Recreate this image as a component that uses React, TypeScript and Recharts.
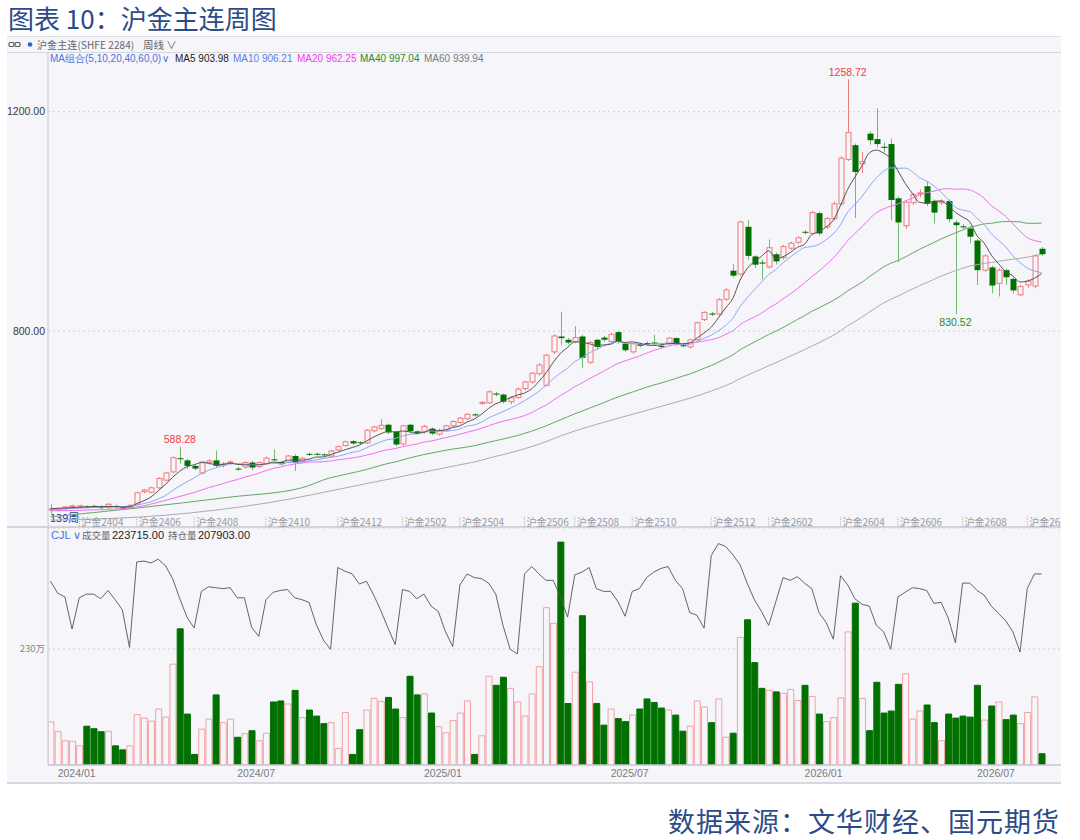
import React from 'react';
import {
  ComposedChart,
  Bar,
  Line,
  Cell,
  XAxis,
  YAxis,
  CartesianGrid,
  ReferenceDot,
} from 'recharts';

// weekly candles, SHFE gold main contract
const opens = [
  474, 473, 476, 480, 479, 480, 481, 480, 478, 481, 479, 478,
  484, 507, 506, 514, 528, 543, 568, 564, 554, 541, 560, 564,
  555, 560, 549, 552, 560, 553, 558, 566, 561, 561, 572, 562,
  576, 576, 575, 572, 583, 591, 599, 597, 596, 618, 622, 629,
  616, 594, 629, 617, 616, 622, 612, 618, 627, 633, 640, 648,
  668, 669, 686, 684, 671, 679, 695, 707, 722, 701, 762, 790,
  784, 781, 790, 743, 784, 788, 781, 798, 777, 762, 776, 778,
  779, 773, 777, 787, 774, 771, 784, 821, 832, 831, 858, 910,
  904, 990, 936, 925, 917, 940, 934, 951, 962, 981, 978, 1015,
  990, 1005, 1032, 1113, 1139, 1105, 1160, 1150, 1136, 1141, 1042, 992,
  1034, 1051, 1064, 1037, 1034, 1037, 998, 991, 987, 965, 911, 916,
  887, 911, 895, 866, 884, 882, 950,
];
const highs = [
  484, 478, 481, 483, 483, 482, 483, 482, 486, 483, 481, 484,
  507, 512, 516, 533, 543, 571, 588.28, 567, 557, 563, 566, 582,
  561, 564, 552, 562, 563, 562, 571, 584, 563, 574, 575, 570,
  578, 578, 577, 583, 591, 600, 601, 599, 621, 627, 639, 631,
  618, 629, 631, 619, 629, 624, 622, 629, 637, 643, 650, 650,
  672, 692, 689, 686, 681, 697, 709, 725, 741, 758, 794, 835,
  787, 809, 793, 782, 786, 791, 797, 800, 780, 779, 778, 781,
  793, 775, 789, 789, 776, 786, 817, 836, 835, 860, 878, 922,
  1001, 1002, 938, 930, 967, 943, 957, 963, 973, 984, 1019, 1018,
  1008, 1036, 1119, 1258.72, 1142, 1126, 1164, 1206, 1144, 1151, 1045, 1038,
  1052, 1058, 1072, 1040, 1040, 1040, 1002, 995, 990, 968, 940, 919,
  914, 914, 898, 884, 894, 940, 953,
];
const lows = [
  467, 471, 474, 478, 477, 477, 477, 475, 476, 477, 474, 476,
  482, 504, 504, 512, 526, 541, 558, 548, 546, 538, 556, 551,
  551, 557, 545, 549, 546, 550, 556, 562, 555, 559, 545, 559,
  572, 573, 571, 569, 580, 589, 592, 593, 594, 615, 620, 612,
  590, 591, 614, 611, 613, 610, 609, 616, 625, 631, 638, 644,
  665, 667, 681, 668, 666, 676, 692, 704, 719, 699, 758, 774,
  775, 778, 732, 740, 765, 780, 778, 777, 762, 759, 770, 774,
  773, 768, 774, 773, 770, 768, 782, 818, 827, 828, 855, 898,
  901, 930, 915, 894, 914, 921, 930, 948, 958, 976, 975, 974,
  986, 1002, 1029, 1110, 1006, 1088, 1140, 1135, 1126, 1002, 926, 987,
  1030, 1044, 1028, 996, 1030, 998, 830.52, 986, 960, 884, 907, 869,
  863, 884, 868, 864, 879, 878, 937,
];
const closes = [
  475, 476, 479, 481, 481, 479, 479, 477, 484, 479, 476, 482,
  505, 510, 514, 531, 541, 569, 567, 554, 549, 561, 563, 554,
  557, 561, 548, 560, 551, 560, 568, 565, 557, 572, 560, 568,
  575, 575, 574, 581, 589, 598, 595, 596, 619, 625, 628, 615,
  593, 627, 617, 614, 626, 613, 619, 627, 635, 641, 648, 646,
  670, 689, 684, 671, 678, 694, 707, 723, 738, 756, 791, 787,
  779, 788, 751, 779, 771, 784, 794, 781, 765, 777, 773, 777,
  776, 771, 787, 776, 773, 784, 815, 834, 830, 857, 875, 901,
  999, 937, 921, 923, 952, 927, 954, 960, 970, 980, 1016, 978,
  1005, 1032, 1115, 1162, 1090, 1109, 1148, 1141, 1134, 1039, 998, 1035,
  1049, 1052, 1032, 1016, 1037, 1004, 993, 989, 972, 911, 937, 883,
  911, 898, 874, 881, 891, 937, 940,
];
// 成交量, 万手
const volumes = [
  85.5, 66, 48, 47, 38, 77, 72, 66, 67, 38, 30, 38,
  100, 93, 87, 111, 95, 200, 270, 101, 21, 71, 91, 139,
  84, 91, 55, 62, 68, 48, 63, 125, 127, 121, 148, 94,
  109, 97, 82, 84, 33, 104, 21, 70, 109, 132, 126, 134,
  111, 94, 176, 139, 141, 103, 76, 64, 88, 103, 127, 21,
  58, 176, 158, 174, 152, 125, 97, 141, 195, 312, 281, 442,
  122, 184, 296, 165, 122, 79, 111, 92, 86, 99, 111, 131,
  124, 113, 109, 99, 67, 77, 127, 115, 84, 131, 55, 63,
  253, 288, 203, 152, 148, 145, 142, 150, 128, 158, 136, 101,
  86, 94, 133, 264, 321, 132, 68, 164, 103, 107, 160, 181,
  91, 107, 119, 84, 48, 101, 93, 97, 95, 158, 89, 117,
  125, 90, 99, 82, 104, 135, 22.4,
];
// 持仓量, 万手
const openInterest = [
  20.0, 18.7, 18.3, 14.8, 18.2, 18.6, 18.6, 18.1, 19.0, 18.0, 16.9, 12.8,
  22.1, 22.2, 22.0, 22.4, 21.7, 20.3, 18.1, 16.1, 14.9, 18.9, 19.4, 19.3,
  19.2, 19.3, 18.2, 18.2, 15.0, 14.0, 18.0, 18.8, 19.0, 19.1, 18.2, 18.0,
  17.7, 15.3, 13.6, 12.6, 21.5, 21.1, 20.8, 19.7, 20.0, 18.5, 16.8, 14.9,
  13.1, 19.1, 18.9, 18.1, 18.6, 17.3, 16.7, 14.5, 12.9, 19.6, 20.8, 20.4,
  20.3, 19.8, 18.6, 15.2, 12.6, 12.1, 20.8, 21.6, 20.8, 20.1, 20.1, 18.3,
  16.1, 20.7, 21.0, 21.5, 19.2, 18.9, 18.9, 17.8, 16.2, 18.9, 19.2, 20.4,
  21.0, 21.4, 21.6, 20.1, 19.2, 16.6, 16.3, 14.9, 22.8, 24.1, 23.8, 22.9,
  21.8, 19.8, 18.0, 16.7, 15.2, 17.8, 20.4, 20.1, 20.5, 19.8, 19.2, 16.6,
  15.5, 13.7, 20.6, 19.6, 18.1, 17.5, 17.3, 15.2, 14.5, 12.6, 18.3, 18.8,
  19.3, 19.2, 19.0, 17.6, 17.7, 16.0, 13.3, 19.8, 19.8, 19.0, 18.5, 17.3,
  16.5, 15.7, 14.5, 12.3, 19.2, 20.8, 20.8,
];

const ma5Early = [[0, 476]];
const ma10Early = [[0, 474]];
const ma20Early = [[0, 472], [10, 476]];
const ma40Early = [[0, 461], [12, 477], [25, 497], [35, 514]];
const ma60Early = [[0, 455], [16, 464], [30, 486], [43, 519], [57, 556]];

const contractTicks = [4, 12, 20, 30, 40, 49, 57, 66, 73, 81, 92, 100, 110, 118, 127, 136];
const contractNames = [
  '沪金2404', '沪金2406', '沪金2408', '沪金2410', '沪金2412', '沪金2502', '沪金2504', '沪金2506',
  '沪金2508', '沪金2510', '沪金2512', '沪金2602', '沪金2604', '沪金2606', '沪金2608', '沪金2610',
];
const monthTicks = [1, 26, 52, 78, 105, 129];
const monthNames = ['2024/01', '2024/07', '2025/01', '2025/07', '2026/01', '2026/07'];

const extremes = [
  { i: 18, value: 588.28, side: 'top', color: '#f23c3c' },
  { i: 111, value: 1258.72, side: 'top', color: '#f23c3c' },
  { i: 126, value: 830.52, side: 'bottom', color: '#2a8a2a' },
];

const maLegend = [
  { name: 'MA5', value: '903.98', color: '#222222', left: 175 },
  { name: 'MA10', value: '906.21', color: '#5b7de6', left: 233 },
  { name: 'MA20', value: '962.25', color: '#f03cf0', left: 297 },
  { name: 'MA40', value: '997.04', color: '#2a8a2a', left: 360 },
  { name: 'MA60', value: '939.94', color: '#7a7a7a', left: 424 },
];

function movingAverage(n: number, early: number[][]) {
  const out: (number | null)[] = closes.map(() => null);
  early.forEach(([i, v]) => (out[i] = v));
  for (let i = n - 1; i < closes.length; i++) {
    let s = 0;
    for (let k = i - n + 1; k <= i; k++) s += closes[k];
    out[i] = s / n;
  }
  return out;
}

const ma5 = movingAverage(5, ma5Early);
const ma10 = movingAverage(10, ma10Early);
const ma20 = movingAverage(20, ma20Early);
const ma40 = movingAverage(40, ma40Early);
const ma60 = movingAverage(60, ma60Early);

const rows = opens.map((o, i) => ({
  i,
  o,
  h: highs[i],
  l: lows[i],
  c: closes[i],
  range: [lows[i], highs[i]],
  up: closes[i] >= o,
  vol: volumes[i],
  oi: openInterest[i],
  ma5: ma5[i],
  ma10: ma10[i],
  ma20: ma20[i],
  ma40: ma40[i],
  ma60: ma60[i],
}));

const BG = '#f5f5fa';
const UP = '#f27a7a';
const DOWN = '#007000';
const AXIS = '#c8c8d2';
const CJK = '"Noto Sans CJK SC", "Noto Sans", sans-serif';
const NUM = '"Liberation Sans", Arial, sans-serif';
const X_DOMAIN = [-0.35, 140.7];
const CHART_W = 1053;

const Candle = (props: any) => {
  const { x, y, width, height, payload } = props;
  if (!payload) return null;
  const { o, h, l, c, up } = payload;
  const top = Math.min(y, y + height);
  const full = Math.abs(height);
  const span = h - l || 1;
  const py = (v: number) => top + ((h - v) / span) * full;
  const cx = Math.round(x + width / 2) + 0.5;
  const bTop = py(Math.max(o, c));
  const bBot = py(Math.min(o, c));
  const bH = Math.max(1, bBot - bTop);
  if (up) {
    return (
      <g>
        <line x1={cx} x2={cx} y1={py(h)} y2={bTop} stroke={UP} />
        <line x1={cx} x2={cx} y1={bTop + bH} y2={py(l)} stroke={UP} />
        <rect x={cx - 2.5} y={bTop} width={5} height={bH} fill={BG} stroke={UP} />
      </g>
    );
  }
  return (
    <g>
      <line x1={cx} x2={cx} y1={py(h)} y2={py(l)} stroke="#72b872" />
      <rect x={cx - 3} y={bTop} width={6} height={bH} fill={DOWN} />
    </g>
  );
};

const ContractTick = ({ x, y, payload }: any) => {
  const k = contractTicks.indexOf(payload.value);
  return (
    <g>
      <line x1={x} x2={x} y1={y - 10} y2={y} stroke="#b4b4bc" strokeDasharray="1 1" />
      <text x={x + 2} y={y - 5} dy="0.35em" fontSize={10} fill="#9a9aa2" fontFamily={CJK}>
        {contractNames[k]}
      </text>
    </g>
  );
};

const MonthTick = ({ x, y, payload }: any) => (
  <text x={x} y={y + 8} dy="0.35em" fontSize={10.5} fill="#7a7a82" fontFamily={NUM}>
    {monthNames[monthTicks.indexOf(payload.value)]}
  </text>
);

const text = (left: number, top: number, content: string, style: any = {}) => (
  <div
    style={{
      position: 'absolute',
      left,
      top,
      lineHeight: '13px',
      whiteSpace: 'nowrap',
      fontSize: 10,
      fontFamily: NUM,
      ...style,
    }}
  >
    {content}
  </div>
);

export default function App() {
  return (
    <div style={{ position: 'absolute', left: 0, top: 0, width: 1080, height: 840, background: '#fff', overflow: 'hidden' }}>
      <div style={{ position: 'absolute', left: 8, top: 2, fontSize: 26, lineHeight: '32px', color: '#2c4b88', fontFamily: CJK }}>
        图表 10：沪金主连周图
      </div>

      <div style={{ position: 'absolute', left: 7, top: 36, width: 1054, height: 745, background: BG, borderTop: '1px solid #dcdce4', borderBottom: '2px solid #d8d8e0' }} />
      <div style={{ position: 'absolute', left: 7, top: 52, width: 1054, height: 1, background: '#d8d8e0' }} />
      <div style={{ position: 'absolute', left: 7, top: 526, width: 1054, height: 2, background: '#d4d4dc' }} />

      {/* header rows */}
      <svg style={{ position: 'absolute', left: 8, top: 41 }} width={26} height={8}>
        <rect x={1} y={1.5} width={5} height={4} rx={1.5} fill="none" stroke="#555" strokeWidth={1.2} />
        <rect x={7} y={1.5} width={5} height={4} rx={1.5} fill="none" stroke="#555" strokeWidth={1.2} />
        <circle cx={22} cy={3.5} r={2.3} fill="#2f5fc8" />
      </svg>
      {text(37, 38, '沪金主连(SHFE 2284)', { fontFamily: CJK, fontSize: 10, letterSpacing: 0.1, color: '#666' })}
      {text(143, 38, '周线 ∨', { fontFamily: CJK, fontSize: 10.5, color: '#666' })}
      {text(50, 52, 'MA组合(5,10,20,40,60,0)', { color: '#4a72e0', fontFamily: NUM })}
      {text(162, 52, '∨', { color: '#4a72e0', fontFamily: NUM })}
      {maLegend.map((m) =>
        <React.Fragment key={m.name}>{text(m.left, 52, `${m.name} ${m.value}`, { color: m.color })}</React.Fragment>
      )}
      {text(50, 511, '139周', { fontSize: 11, color: '#28409a', fontFamily: CJK })}
      {text(51, 529, 'CJL ∨', { fontSize: 11, color: '#4a72e0' })}
      {text(82, 529, '成交量', { fontSize: 9.5, color: '#666', fontFamily: CJK })}
      {text(112, 529, '223715.00', { fontSize: 11, color: '#222' })}
      {text(168, 529, '持仓量', { fontSize: 9.5, color: '#666', fontFamily: CJK })}
      {text(198, 529, '207903.00', { fontSize: 11, color: '#222' })}

      {/* price panel */}
      <div style={{ position: 'absolute', left: 8, top: 52 }}>
        <ComposedChart width={CHART_W} height={476} data={rows} margin={{ top: 0, right: 0, bottom: 0, left: 0 }}>
          <CartesianGrid vertical={false} stroke="#cfcfd8" strokeDasharray="2 3" />
          <XAxis
            dataKey="i"
            type="number"
            domain={X_DOMAIN}
            allowDataOverflow
            ticks={contractTicks}
            interval={0}
            height={1}
            axisLine={false}
            tickLine={false}
            tickSize={0}
            tickMargin={0}
            tick={<ContractTick />}
          />
          <YAxis
            domain={[442.5, 1308.9]}
            allowDataOverflow
            ticks={[800, 1200]}
            width={40}
            tickFormatter={(v) => v.toFixed(2)}
            axisLine={{ stroke: AXIS }}
            tickLine={false}
            tickSize={0}
            tickMargin={3}
            tick={{ fontSize: 10.5, fill: '#3a3a3a', fontFamily: NUM }}
          />
          <Line dataKey="ma60" type="monotone" stroke="#ababb0" strokeWidth={1} dot={false} connectNulls isAnimationActive={false} />
          <Line dataKey="ma40" type="monotone" stroke="#62aa62" strokeWidth={1} dot={false} connectNulls isAnimationActive={false} />
          <Line dataKey="ma20" type="monotone" stroke="#f070f0" strokeWidth={1} dot={false} connectNulls isAnimationActive={false} />
          <Line dataKey="ma10" type="monotone" stroke="#8ea8f2" strokeWidth={1} dot={false} connectNulls isAnimationActive={false} />
          <Line dataKey="ma5" type="monotone" stroke="#555" strokeWidth={1} dot={false} connectNulls isAnimationActive={false} />
          <Bar dataKey="range" barSize={6} shape={<Candle />} isAnimationActive={false} />
          {extremes.map((e) => (
            <ReferenceDot
              key={e.i}
              x={e.i}
              y={e.value}
              r={1}
              fill="none"
              stroke="none"
              label={{ value: e.value.toFixed(2), position: e.side, fill: e.color, fontSize: 10.5, fontFamily: NUM, offset: 3 }}
            />
          ))}
        </ComposedChart>
      </div>

      {/* volume panel */}
      <div style={{ position: 'absolute', left: 8, top: 528 }}>
        <ComposedChart width={CHART_W} height={254} data={rows} margin={{ top: 0, right: 0, bottom: 0, left: 0 }}>
          <CartesianGrid vertical={false} stroke="#cfcfd8" strokeDasharray="2 3" />
          <XAxis
            dataKey="i"
            type="number"
            domain={X_DOMAIN}
            allowDataOverflow
            ticks={monthTicks}
            interval={0}
            height={17}
            axisLine={{ stroke: AXIS, strokeWidth: 1.5 }}
            tickLine={false}
            tickSize={0}
            tickMargin={0}
            tick={<MonthTick />}
          />
          <YAxis
            domain={[0, 470]}
            allowDataOverflow
            ticks={[230]}
            width={40}
            tickFormatter={(v) => `${v}万`}
            axisLine={{ stroke: AXIS }}
            tickLine={false}
            tickSize={0}
            tickMargin={3}
            tick={{ fontSize: 9.5, fill: '#888', fontFamily: CJK }}
          />
          <YAxis yAxisId="oi" hide domain={[0, 25.8]} />
          <Bar dataKey="vol" barSize={6} isAnimationActive={false}>
            {rows.map((r) => (
              <Cell key={r.i} fill={r.up ? BG : DOWN} stroke={r.up ? '#f5a0a0' : DOWN} strokeWidth={1} />
            ))}
          </Bar>
          <Line yAxisId="oi" dataKey="oi" type="linear" stroke="#555" strokeWidth={0.9} dot={false} isAnimationActive={false} />
        </ComposedChart>
      </div>

      <div style={{ position: 'absolute', right: 20, top: 804, fontSize: 27, lineHeight: '34px', letterSpacing: 1, color: '#2c4b88', fontFamily: CJK }}>
        数据来源：文华财经、国元期货
      </div>
    </div>
  );
}
